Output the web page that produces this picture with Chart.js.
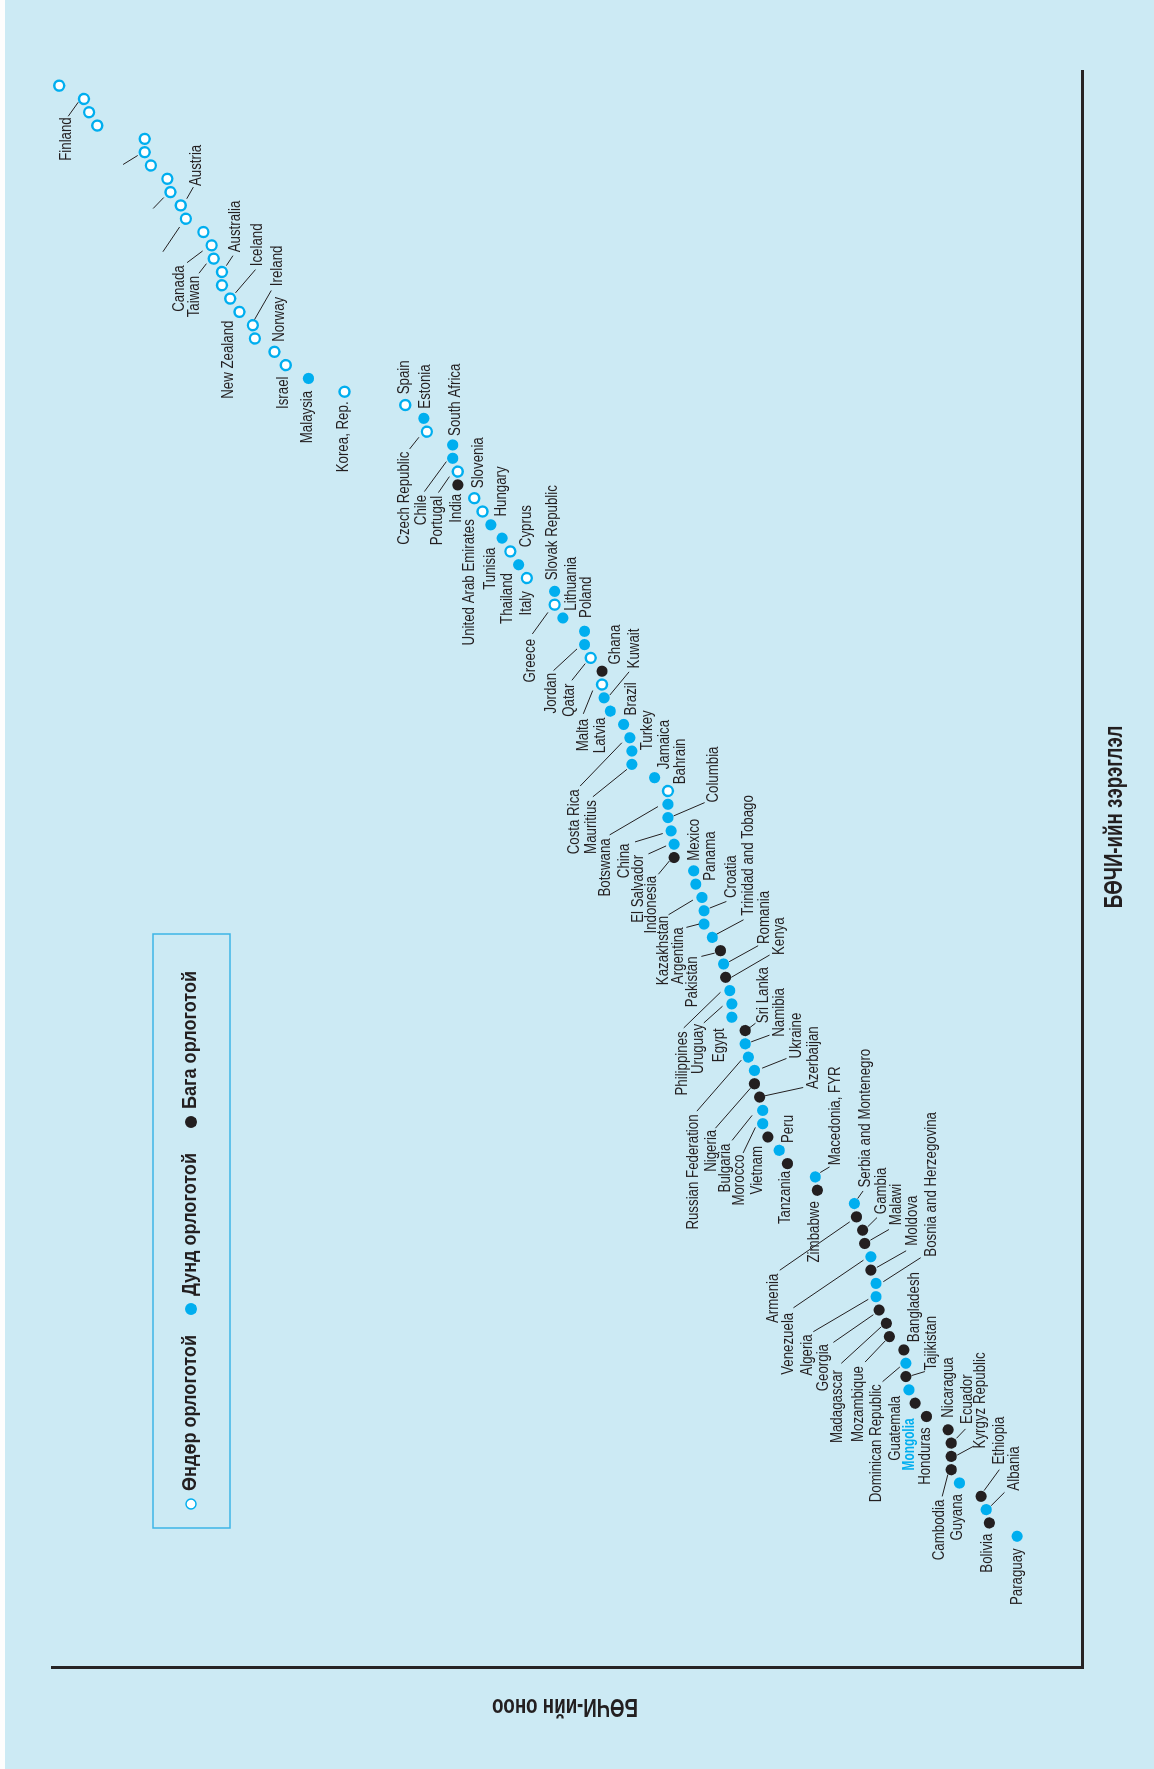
<!DOCTYPE html>
<html>
<head>
<meta charset="utf-8">
<script src="https://cdn.jsdelivr.net/npm/chart.js"></script>
<style>
  html, body { margin: 0; padding: 0; }
  body { width: 1154px; height: 1769px; overflow: hidden; background: #cceaf4; position: relative; }
  #edge { position: absolute; left: 0; top: 0; width: 5px; height: 1769px; background: #fdfdfd; }
  /* the chart is drawn landscape and turned a quarter turn to the left */
  #wrap { position: absolute; left: 0; top: 0; width: 1769px; height: 1154px;
          transform-origin: 0 0; transform: translateY(1769px) rotate(-90deg); }
</style>
</head>
<body>
<div id="edge"></div>
<div id="wrap"><canvas id="bci" width="1769" height="1154"></canvas></div>
<script>
// rank order = position in the arrays (1 = best)
const countries = [
  '', 'Finland', '', '', '', '', '', '', '', 'Austria',
  '', '', 'Canada', 'Taiwan', 'Australia', '', 'Iceland', 'New Zealand', 'Ireland', '',
  'Norway', 'Israel', 'Malaysia', 'Korea, Rep.', 'Spain', 'Estonia', 'Czech Republic', 'South Africa', 'Chile', 'Portugal',
  'India', 'Slovenia', 'United Arab Emirates', 'Hungary', 'Tunisia', 'Cyprus', 'Thailand', 'Italy', 'Slovak Republic', 'Greece',
  'Lithuania', 'Poland', 'Jordan', 'Qatar', 'Ghana', 'Malta', 'Kuwait', 'Latvia', 'Brazil', 'Costa Rica',
  'Turkey', 'Mauritius', 'Jamaica', 'Bahrain', 'Botswana', 'Columbia', 'China', 'El Salvador', 'Indonesia', 'Mexico',
  'Panama', 'Kazakhstan', 'Croatia', 'Argentina', 'Trinidad and Tobago', 'Pakistan', 'Romania', 'Kenya', 'Philippines', 'Uruguay',
  'Egypt', 'Sri Lanka', 'Namibia', 'Russian Federation', 'Ukraine', 'Nigeria', 'Azerbaijan', 'Bulgaria', 'Morocco', 'Vietnam',
  'Peru', 'Tanzania', 'Macedonia, FYR', 'Zimbabwe', 'Serbia and Montenegro', 'Armenia', 'Gambia', 'Malawi', 'Venezuela', 'Moldova',
  'Bosnia and Herzegovina', 'Algeria', 'Georgia', 'Madagascar', 'Mozambique', 'Bangladesh', 'Dominican Republic', 'Tajikistan', 'Guatemala', 'Mongolia',
  'Honduras', 'Nicaragua', 'Ecuador', 'Kyrgyz Republic', 'Cambodia', 'Guyana', 'Ethiopia', 'Albania', 'Bolivia', 'Paraguay'
];

// score (0-100 across the plotting area)
const scores = [
  99.3, 96.9, 96.4, 95.6, 91.0, 91.0, 90.4, 88.8, 88.5, 87.5,
  87.0, 85.3, 84.5, 84.3, 83.5, 83.5, 82.7, 81.8, 80.5, 80.3,
  78.4, 77.3, 75.1, 71.6, 65.7, 63.9, 63.6, 61.1, 61.1, 60.6,
  60.6, 59.0, 58.2, 57.4, 56.3, 55.5, 54.7, 53.9, 51.2, 51.2,
  50.4, 48.3, 48.3, 47.7, 46.6, 46.6, 46.4, 45.8, 44.5, 43.9,
  43.7, 43.7, 41.5, 40.2, 40.2, 40.2, 39.9, 39.6, 39.6, 37.7,
  37.5, 36.9, 36.7, 36.7, 35.9, 35.1, 34.8, 34.6, 34.2, 34.0,
  34.0, 32.7, 32.7, 32.4, 31.8, 31.8, 31.3, 31.0, 31.0, 30.5,
  29.4, 28.6, 25.9, 25.7, 22.1, 21.9, 21.3, 21.1, 20.5, 20.5,
  20.0, 20.0, 19.7, 19.0, 18.7, 17.3, 17.1, 17.1, 16.8, 16.2,
  15.1, 13.0, 12.7, 12.7, 12.7, 11.9, 9.8, 9.3, 9.0, 6.3
];

// income group: H = high, M = middle, L = low
const groups = [
  'H','H','H','H','H','H','H','H','H','H',
  'H','H','H','H','H','H','H','H','H','H',
  'H','H','M','H','H','M','H','M','M','H',
  'L','H','H','M','M','H','M','H','M','H',
  'M','M','M','H','L','H','M','M','M','M',
  'M','M','M','H','M','M','M','M','L','M',
  'M','M','M','M','M','L','M','L','M','M',
  'M','L','M','M','M','L','L','M','M','L',
  'M','L','M','L','M','L','L','L','M','L',
  'M','M','L','L','L','L','M','L','M','L',
  'L','L','L','L','L','M','L','M','L','M'
];

const legendNames = ['Өндөр орлоготой', 'Дунд орлоготой', 'Бага орлоготой'];
const rankTitle = 'БӨЧИ-ийн зэрэглэл';
const scoreTitle = 'БӨЧИ-ийн оноо';

// label placement as seen on the page: [dx, dy, side, leader x1, y1, x2, y2]
// side a = text runs upward from the anchor, b = text ends at the anchor
const labelLayout = {
  'Finland': [-17.3, 18.3, 'b', -5.7, 3.3, -15.7, 17.3],
  'Austria': [16, -19.3, 'a', 6, -6.7, 12.6, -18.3],
  'Canada': [-32.3, 20, 'b', -9, 5.6, -24.6, 17.3],
  'Taiwan': [-19, 17.3, 'b', -7.3, 5, -14.7, 14.6],
  'Australia': [13.7, -19.6, 'a', 4.4, -6.3, 11, -16.3],
  'Iceland': [27.6, -32.3, 'a', 5.3, -5.7, 25.3, -29],
  'New Zealand': [-10.7, 8.7, 'b'],
  'Ireland': [24.4, -39, 'a', 1.7, -5.7, 18.4, -34.7],
  'Norway': [5.3, -10, 'a'],
  'Israel': [-2.7, 11.4, 'b'],
  'Malaysia': [-1, 12.4, 'b'],
  'Korea, Rep.': [-1, 9.7, 'b'],
  'Spain': [-0.7, -10.7, 'a'],
  'Estonia': [1.4, -9.7, 'a'],
  'Czech Republic': [-22.3, 20, 'b', -8, 5.6, -17.3, 17.3],
  'South Africa': [3.4, -9, 'a'],
  'Chile': [-30.6, 36.6, 'b', -6.3, 3.3, -28.3, 33.3],
  'Portugal': [-20, 24.3, 'b', -8.4, 5, -19.4, 21],
  'India': [-1, 9, 'b'],
  'Slovenia': [4, -10, 'a'],
  'United Arab Emirates': [-12.7, 7.7, 'b'],
  'Hungary': [11.3, -8.3, 'a'],
  'Tunisia': [-11.6, 9.4, 'b'],
  'Cyprus': [16.6, -4.3, 'a'],
  'Thailand': [-11.3, 8.3, 'b'],
  'Italy': [-0.6, 13, 'b'],
  'Slovak Republic': [-1.7, -11, 'a'],
  'Greece': [-24, 34.3, 'b', -6.7, 7.7, -22.3, 29.3],
  'Lithuania': [8.4, -7.3, 'a'],
  'Poland': [1.7, -13.4, 'a'],
  'Jordan': [-33.3, 28.3, 'b', -7.5, 4.3, -31, 26],
  'Qatar': [-21.2, 25.7, 'b', -5.5, 5.7, -18.8, 22.4],
  'Ghana': [13.7, -6.7, 'a'],
  'Malta': [-18.7, 34.3, 'b', -9.3, 6, -18.7, 29.3],
  'Kuwait': [30.7, -29.4, 'a', 5.7, -2.7, 25, -26],
  'Latvia': [-9.6, 6.6, 'b'],
  'Brazil': [8.3, -9, 'a'],
  'Costa Rica': [-55.7, 51.6, 'b', -8, 5, -49.7, 48.3],
  'Turkey': [16, -0.7, 'a'],
  'Mauritius': [-40.6, 35.7, 'b', -5, 5, -39, 32.4],
  'Jamaica': [10, -8.3, 'a'],
  'Bahrain': [12.4, -6.7, 'a'],
  'Botswana': [-62.3, 34, 'b', -10, 2.3, -58.3, 30.6],
  'Columbia': [45.7, -15, 'a', 5.7, -1.7, 36.7, -15],
  'China': [-46, 12.6, 'b', -8.3, 2.6, -36, 11],
  'El Salvador': [-35.7, 10.7, 'b', -8, 1.7, -25.7, 9.7],
  'Indonesia': [-22.3, 18.4, 'b', -4.7, 3.4, -15.7, 16.7],
  'Mexico': [0.7, -10, 'a'],
  'Panama': [14.7, -3.3, 'a'],
  'Kazakhstan': [-38.4, 18.3, 'b', -9, 2.6, -33.4, 17.3],
  'Croatia': [27.4, -12.7, 'a', 5.7, -2.7, 22.4, -9.3],
  'Argentina': [-25, 3.3, 'b', -5, 0, -17.6, 3.3],
  'Trinidad and Tobago': [36.6, -21.6, 'a', 4.6, -3.3, 31.3, -17.6],
  'Pakistan': [-28.1, 5.7, 'b', -5.8, 2.4, -19.1, 5.7],
  'Romania': [41.3, -20, 'a', 5.6, -2.3, 34.6, -18.3],
  'Kenya': [54, -22.3, 'a', 5.7, 0, 44, -22.3],
  'Philippines': [-47.6, 40.7, 'b', -9.3, 1.7, -46, 37.3],
  'Uruguay': [-33, 20, 'b', -9.3, 2.3, -28, 19],
  'Egypt': [-12.7, 11, 'b'],
  'Sri Lanka': [18.3, -7.3, 'a', 4.3, -2.7, 10.3, -7.3],
  'Namibia': [34.3, -7, 'a', 6, -2, 24.3, -8.7],
  'Russian Federation': [-54.7, 57.3, 'b', -7, 3, -51.4, 54],
  'Ukraine': [42, -12, 'a', 7.7, -2.3, 32, -12],
  'Nigeria': [-43, 46, 'b', -4, 4.4, -39, 44.4],
  'Azerbaijan': [53.6, -8, 'a', 5.3, -1.3, 43.6, -9.6],
  'Bulgaria': [-37.3, 33.3, 'b', -10.6, 5, -30.6, 30],
  'Morocco': [-23, 31, 'b', -7.3, 3.7, -19.6, 29.3],
  'Vietnam': [-10.7, 9, 'b'],
  'Peru': [9.3, -7.3, 'a'],
  'Tanzania': [-2.3, 7.3, 'b'],
  'Macedonia, FYR': [20, -11.7, 'a', 5, -4.4, 14.3, -10],
  'Zimbabwe': [-2.7, 11, 'b'],
  'Serbia and Montenegro': [11, -16, 'a', 3.3, -5, 8.7, -12.6],
  'Armenia': [-82.7, 56.7, 'b', -6.7, 5, -76.7, 53.4],
  'Gambia': [19.4, -16, 'a', 5, -3.3, 14.4, -12.6],
  'Malawi': [31.7, -18.3, 'a', 5.7, -3.3, 24.3, -14],
  'Venezuela': [-82.4, 56, 'b', -7.4, 3.4, -77.4, 51],
  'Moldova': [41.6, -24.3, 'a', 6, -2.7, 35.3, -19.3],
  'Bosnia and Herzegovina': [55.7, -26.7, 'a', 7.3, -1.7, 44.7, -25.7],
  'Algeria': [-68.7, 37.6, 'b', -7.7, 2.6, -62.7, 35],
  'Georgia': [-55, 34, 'b', -5.7, 4.7, -45.7, 32.4],
  'Madagascar': [-48.4, 46.7, 'b', -5, 3.4, -45, 40],
  'Mozambique': [-30.3, 29.4, 'b', -4.3, 4.4, -24.3, 25.4],
  'Bangladesh': [10.7, -7.7, 'a'],
  'Dominican Republic': [-29.3, 21, 'b', -6, 3.7, -23.3, 18.4],
  'Tajikistan': [25.7, -6, 'a', 5.7, -1, 19, -5],
  'Guatemala': [-13, 6, 'b'],
  'Mongolia': [-5.7, 15.3, 'b'],
  'Honduras': [-1, 10.8, 'b'],
  'Nicaragua': [0.6, -12, 'a'],
  'Ecuador': [16, -19.2, 'a', 5.3, -4.8, 14.3, -14.2],
  'Kyrgyz Republic': [29.3, -8, 'a', 6, -1.3, 22.6, -10.3],
  'Cambodia': [-11.4, 30, 'b', -3.4, 5, -9, 26.7],
  'Guyana': [-2, 11, 'b'],
  'Ethiopia': [18.3, -31.7, 'a', 3, -5.7, 18.3, -26.7],
  'Albania': [28.3, -19, 'a', 5, -4, 18.3, -17.3],
  'Bolivia': [-2, 10.6, 'b'],
  'Paraguay': [0, 12, 'b']
};
// leader lines left without a name
const strayLeaders = { 6: [-7, 3.3, -21.6, 12.3], 9: [-6.7, 5.4, -17.3, 16.4], 11: [-6.3, 8.3, -23, 33] };

const BLUE = '#00aeef';
const INK = '#231f20';
const LABEL_FONT = '16px "Liberation Sans", Arial, sans-serif';
const BOLD = '"Liberation Sans", Arial, sans-serif';

function pointsFor(code) {
  const out = [];
  scores.forEach((s, i) => { if (groups[i] === code) out.push({ x: i + 1, y: s }); });
  return out;
}

// text squeezed sideways to look like the condensed face of the original
function squeezed(ctx, str, u, v, align, font, sx, color, angle) {
  ctx.save();
  ctx.translate(u, v);
  if (angle) ctx.rotate(angle);
  ctx.scale(sx, 1);
  ctx.font = font;
  ctx.fillStyle = color || INK;
  ctx.textAlign = align;
  ctx.textBaseline = 'middle';
  ctx.fillText(str, 0, 0);
  ctx.restore();
}

const annotate = {
  id: 'annotate',
  afterDatasetsDraw(chart) {
    const { ctx, scales: { x, y } } = chart;
    ctx.save();
    ctx.strokeStyle = INK;
    ctx.lineWidth = 1;
    countries.forEach((name, i) => {
      const u = x.getPixelForValue(i + 1);
      const v = y.getPixelForValue(scores[i]);
      const lay = name ? labelLayout[name] : null;
      const lead = lay && lay.length > 3 ? lay.slice(3) : strayLeaders[i + 1];
      if (lead) {
        ctx.beginPath();
        ctx.moveTo(u - lead[1], v + lead[0]);
        ctx.lineTo(u - lead[3], v + lead[2]);
        ctx.stroke();
      }
      if (lay) {
        const align = lay[2] === 'a' ? 'left' : 'right';
        if (name === 'Mongolia') {
          squeezed(ctx, name, u - lay[1], v + lay[0], align, 'bold 16px ' + BOLD, 0.74, BLUE);
        } else {
          squeezed(ctx, name, u - lay[1], v + lay[0], align, LABEL_FONT, 0.83);
        }
      }
    });

    // axis titles
    squeezed(ctx, rankTitle, 952, 1115, 'center', 'bold 26px ' + BOLD, 0.72);
    squeezed(ctx, scoreTitle, 63, 565, 'center', 'bold 26px ' + BOLD, 0.72, INK, -Math.PI / 2);

    // legend box
    ctx.strokeStyle = '#3cb5e6';
    ctx.lineWidth = 1.5;
    ctx.strokeRect(241, 153, 594, 77);
    const marks = [[265, 'H'], [460, 'M'], [647, 'L']];
    marks.forEach(([u, code], k) => {
      ctx.beginPath();
      if (code === 'H') {
        ctx.arc(u, 191, 5, 0, Math.PI * 2);
        ctx.fillStyle = '#fff';
        ctx.fill();
        ctx.strokeStyle = BLUE;
        ctx.lineWidth = 1.5;
        ctx.stroke();
      } else {
        ctx.arc(u, 191, 6, 0, Math.PI * 2);
        ctx.fillStyle = code === 'M' ? BLUE : INK;
        ctx.fill();
      }
      squeezed(ctx, legendNames[k], u + 13, 190, 'left', 'bold 21px ' + BOLD, 0.86);
    });
    ctx.restore();
  }
};

const axisLine = {
  ticks: { display: false },
  grid: { display: true, drawOnChartArea: false, drawTicks: false },
  border: { display: true, color: '#262425', width: 3 }
};

new Chart(document.getElementById('bci'), {
  type: 'scatter',
  data: {
    datasets: [
      { label: legendNames[0], data: pointsFor('H'), pointRadius: 5, pointBorderWidth: 2.4,
        pointBackgroundColor: '#ffffff', pointBorderColor: BLUE, clip: false },
      { label: legendNames[1], data: pointsFor('M'), pointRadius: 5.6, pointBorderWidth: 0,
        pointBackgroundColor: BLUE, pointBorderColor: BLUE, clip: false },
      { label: legendNames[2], data: pointsFor('L'), pointRadius: 5.6, pointBorderWidth: 0,
        pointBackgroundColor: INK, pointBorderColor: INK, clip: false }
    ]
  },
  options: {
    responsive: false,
    animation: false,
    layout: { padding: { left: 101, right: 71, top: 52, bottom: 72 } },
    plugins: { legend: { display: false }, tooltip: { enabled: false } },
    scales: {
      x: Object.assign({ type: 'linear', reverse: true, min: -0.1, max: 119.9,
        afterFit(s) { s.height = 0; } }, axisLine),
      y: Object.assign({ type: 'linear', min: 0, max: 100,
        afterFit(s) { s.width = 0; } }, axisLine)
    }
  },
  plugins: [annotate]
});
</script>
</body>
</html>
